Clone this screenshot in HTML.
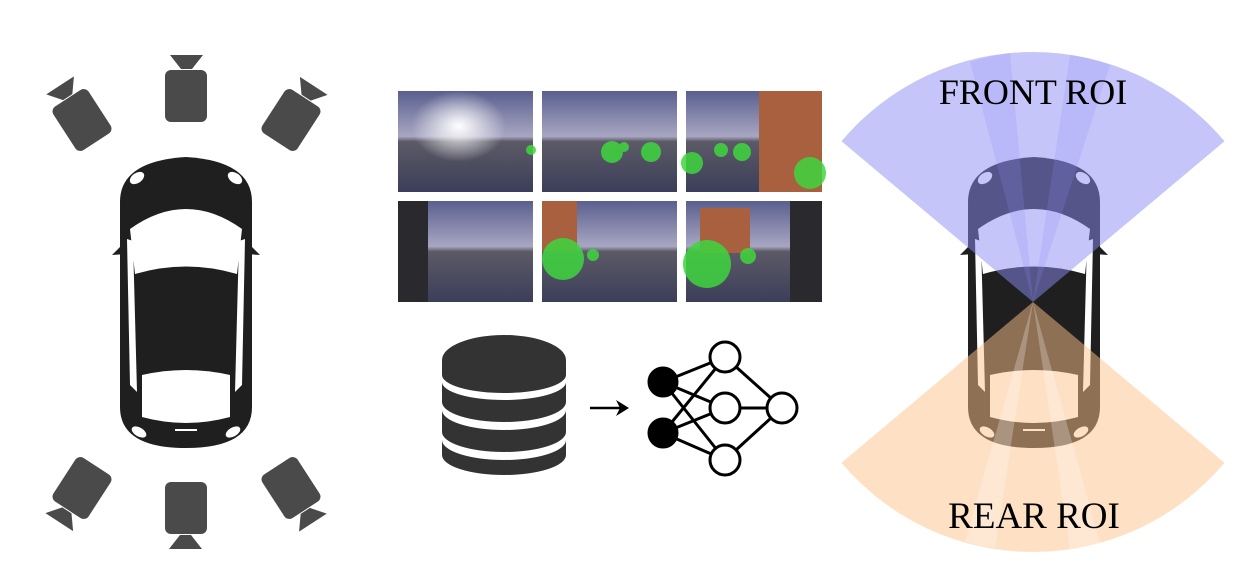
<!DOCTYPE html>
<html><head><meta charset="utf-8"><style>
html,body{margin:0;padding:0;background:#fff;}
svg{display:block;}
</style></head><body>
<svg width="1257" height="575" viewBox="0 0 1257 575" xmlns="http://www.w3.org/2000/svg">
<defs>
<g id="car">
  <path d="M0,45 Q0,4 66,0 Q132,4 132,45 L132,250 Q132,291 66,291 Q0,291 0,250 Z" fill="#1f1f1f"/>
  <polygon points="4,86 -8,98 6,97" fill="#1f1f1f"/>
  <polygon points="128,86 140,98 126,97" fill="#1f1f1f"/>
  <ellipse cx="17" cy="21" rx="8" ry="5" fill="#fff" transform="rotate(-35 17 21)"/>
  <ellipse cx="115" cy="21" rx="8" ry="5" fill="#fff" transform="rotate(35 115 21)"/>
  <path d="M10,72 Q66,32 122,72 L117,117 Q66,102 15,117 Z" fill="#fff"/>
  <path d="M7,82 L13,84 L17,235 L10,228 Z" fill="#fff"/>
  <path d="M125,82 L119,84 L115,235 L122,228 Z" fill="#fff"/>
  <path d="M22,218 Q66,208 110,218 L110,260 Q66,272 22,260 Z" fill="#fff"/>
  <ellipse cx="19" cy="275" rx="8" ry="4.5" fill="#fff" transform="rotate(30 19 275)"/>
  <ellipse cx="113" cy="275" rx="8" ry="4.5" fill="#fff" transform="rotate(-30 113 275)"/>
  <rect x="55" y="272" width="22" height="2" fill="#fff"/>
</g>
<g id="cam">
  <rect x="-21" y="-26" width="42" height="52" rx="6" fill="#4a4a4a"/>
  <polygon points="-16,-41 17,-41 6,-27 -5,-27" fill="#4a4a4a"/>
</g>
<linearGradient id="sky" x1="0" y1="0" x2="0" y2="1">
<stop offset="0" stop-color="#5a5f8e"/><stop offset="0.45" stop-color="#a8a6c2"/><stop offset="0.5" stop-color="#5c5a66"/><stop offset="1" stop-color="#3c3e5a"/>
</linearGradient>
<radialGradient id="sun" cx="0.45" cy="0.35" r="0.35"><stop offset="0" stop-color="#fff" stop-opacity="1"/><stop offset="1" stop-color="#fff" stop-opacity="0"/></radialGradient>
</defs>

<!-- Left car & cameras -->
<use href="#car" x="120" y="157"/>
<use href="#cam" transform="translate(186,96)"/>
<use href="#cam" transform="translate(82,120) rotate(-33)"/>
<use href="#cam" transform="translate(291,120) rotate(33)"/>
<use href="#cam" transform="translate(186,508) rotate(180)"/>
<use href="#cam" transform="translate(82,488) rotate(213)"/>
<use href="#cam" transform="translate(291,488) rotate(147)"/>

<!-- Image tiles -->
<g>
  <rect x="398" y="91" width="135" height="101" fill="url(#sky)"/>
  <rect x="398" y="91" width="135" height="101" fill="url(#sun)"/>
  <rect x="542" y="91" width="135" height="101" fill="url(#sky)"/>
  <rect x="686" y="91" width="136" height="101" fill="url(#sky)"/>
  <rect x="759" y="91" width="63" height="101" fill="#a8603e"/>
  <rect x="398" y="201" width="135" height="101" fill="url(#sky)"/>
  <rect x="398" y="201" width="30" height="101" fill="#2a2a2e"/>
  <rect x="542" y="201" width="135" height="101" fill="url(#sky)"/>
  <rect x="542" y="201" width="35" height="50" fill="#a8603e"/>
  <rect x="686" y="201" width="136" height="101" fill="url(#sky)"/>
  <rect x="700" y="208" width="50" height="45" fill="#a8603e"/>
  <rect x="790" y="201" width="32" height="101" fill="#2a2a2e"/>
  <g fill="#3ed63e" opacity="0.85">
    <circle cx="531" cy="150" r="5"/>
    <circle cx="612" cy="152" r="11"/><circle cx="651" cy="152" r="10"/><circle cx="624" cy="147" r="5"/>
    <circle cx="692" cy="163" r="11"/><circle cx="721" cy="150" r="7"/><circle cx="742" cy="152" r="9"/><circle cx="810" cy="173" r="16"/>
    <circle cx="563" cy="259" r="21"/><circle cx="593" cy="255" r="6"/>
    <circle cx="707" cy="264" r="24"/><circle cx="748" cy="256" r="8"/>
  </g>
</g>

<!-- Database -->
<g fill="#333">
  <path d="M442,360 A62,25 0 0 1 566,360 L566,375 A62,18 0 0 1 442,375 Z"/>
  <path d="M442,382 A62,18 0 0 0 566,382 L566,402 A62,20 0 0 1 442,402 Z"/>
  <path d="M442,410 A62,20 0 0 0 566,410 L566,432 A62,20 0 0 1 442,432 Z"/>
  <path d="M442,440 A62,20 0 0 0 566,440 L566,455 A62,20 0 0 1 442,455 Z"/>
</g>
<line x1="590" y1="408" x2="622" y2="408" stroke="#000" stroke-width="2.5"/>
<polygon points="629,408 616,400 620,408 616,416" fill="#000"/>
<g stroke="#000" stroke-width="3">
  <line x1="663" y1="382" x2="725" y2="357"/><line x1="663" y1="382" x2="725" y2="408"/><line x1="663" y1="382" x2="725" y2="460"/>
  <line x1="663" y1="433" x2="725" y2="357"/><line x1="663" y1="433" x2="725" y2="408"/><line x1="663" y1="433" x2="725" y2="460"/>
  <line x1="725" y1="357" x2="782" y2="408"/><line x1="725" y1="408" x2="782" y2="408"/><line x1="725" y1="460" x2="782" y2="408"/>
  <circle cx="663" cy="382" r="14" fill="#000"/><circle cx="663" cy="433" r="14" fill="#000"/>
  <circle cx="725" cy="357" r="15" fill="#fff"/><circle cx="725" cy="408" r="15" fill="#fff"/><circle cx="725" cy="460" r="15" fill="#fff"/>
  <circle cx="782" cy="408" r="15" fill="#fff"/>
</g>

<!-- Right ROI -->
<use href="#car" x="968" y="157"/>
<path d="M1033,302 L841.5,141.3 A250,250 0 0 1 1224.5,141.3 Z" fill="rgb(140,140,245)" fill-opacity="0.5"/>
<path d="M1033,302 L970,62 A250,250 0 0 1 1010,53 Z" fill="rgb(140,140,245)" fill-opacity="0.2"/>
<path d="M1033,302 L1070,55 A250,250 0 0 1 1110,65 Z" fill="rgb(140,140,245)" fill-opacity="0.2"/>
<path d="M1033,302 L841.5,462.7 A250,250 0 0 0 1224.5,462.7 Z" fill="rgb(253,195,140)" fill-opacity="0.5"/>
<path d="M1033,302 L965,542 A250,250 0 0 0 995,548 Z" fill="#fff" fill-opacity="0.25"/>
<path d="M1033,302 L1070,549 A250,250 0 0 0 1100,543 Z" fill="#fff" fill-opacity="0.25"/>
<text x="1033" y="104" font-family="Liberation Serif, serif" font-size="36" text-anchor="middle" fill="#000">FRONT ROI</text>
<text x="1034" y="528" font-family="Liberation Serif, serif" font-size="37" text-anchor="middle" fill="#000">REAR ROI</text>
</svg>
</body></html>
